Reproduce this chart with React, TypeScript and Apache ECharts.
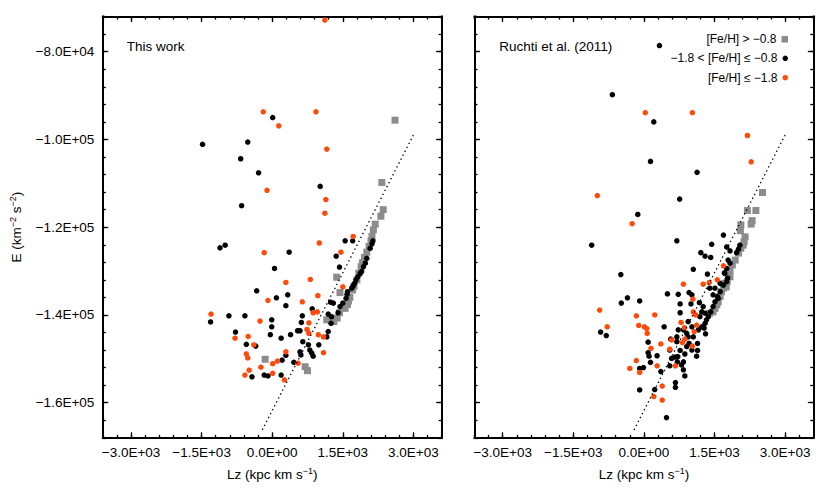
import React, { useEffect, useRef } from "react";
import * as echarts from "echarts";

const FONT = "'Liberation Sans', Arial, Helvetica, sans-serif";
const ORANGE = "#ff4a0a";
const GRAY = "#8c8c8c";

const seriesNames = ["[Fe/H] > −0.8", "−1.8 < [Fe/H] ≤ −0.8", "[Fe/H] ≤ −1.8"];
const panelLabels = ["This work", "Ruchti et al. (2011)"];
const xRange = [-3600, 3600];
const yRange = [-168000, -72000];
const xMajorTicks = [-3000, -1500, 0, 1500, 3000];
const xTickLabels = ["−3.0E+03", "−1.5E+03", "0.0E+00", "1.5E+03", "3.0E+03"];
const yMajorTicks = [-160000, -140000, -120000, -100000, -80000];
const yTickLabels = ["−1.6E+05", "−1.4E+05", "−1.2E+05", "−1.0E+05", "−8.0E+04"];

// dotted reference line (Lz, E)
const refLine = [[-210, -166200], [3000, -99000]];

// ---- This work ----
const thisWorkRich = [[2610,-95600],[2330,-109800],[2360,-116000],[2310,-117500],[2190,-119300],[2150,-120600],[2120,-122100],[2100,-123100],[2060,-124400],[2010,-125700],[1960,-126900],[1920,-128100],[1890,-129000],[1840,-130500],[1800,-132000],[1740,-133400],[1710,-134300],[1650,-136000],[1620,-136800],[1600,-137600],[1550,-138500],[1430,-139500],[1380,-140700],[1310,-141500],[1240,-141100],[1160,-141100],[1370,-131400],[1440,-134900],[700,-151800],[750,-152700],[-150,-150100]];

const thisWorkMid = [[10,-95000],[-1480,-101100],[-520,-100600],[-670,-104400],[-290,-107600],[-650,-115100],[-1110,-124700],[-1000,-124100],[360,-125700],[50,-129400],[-330,-134500],[90,-136100],[330,-135400],[290,-137900],[-1310,-141600],[-920,-140200],[-580,-140200],[-10,-141100],[-10,-142700],[-780,-143900],[-40,-144500],[190,-145300],[390,-144500],[540,-143600],[-550,-146700],[-350,-147100],[290,-149200],[210,-150300],[460,-150800],[-430,-154100],[-170,-153700],[-90,-153900],[190,-153700],[1020,-110700],[2140,-123100],[2120,-123800],[2080,-124800],[2010,-127100],[1980,-128200],[1940,-129000],[1900,-130100],[1870,-130500],[1820,-131300],[1780,-132000],[1750,-132800],[1720,-133400],[1690,-133900],[1600,-134700],[1590,-135300],[1570,-136200],[1500,-137300],[1440,-138100],[1400,-139500],[1300,-137300],[1240,-137100],[1190,-139800],[1260,-140400],[1250,-141900],[1160,-145000],[1550,-123100],[1710,-123100],[1360,-126600],[1430,-129100],[850,-138600],[640,-140200],[620,-141700],[590,-143600],[1190,-143800],[650,-146100],[770,-146800],[590,-148400],[610,-149100],[800,-148000],[840,-148700],[870,-149400],[990,-146800]];

const thisWorkPoor = [[1120,-72800],[-190,-93700],[140,-96900],[930,-93700],[1160,-102200],[-110,-111600],[-170,-125800],[290,-132600],[-90,-136700],[-1300,-139800],[-260,-141400],[-510,-144900],[-790,-145300],[-390,-146800],[-550,-148900],[-520,-149800],[290,-148400],[110,-150500],[10,-151100],[550,-151000],[-240,-151900],[-490,-152600],[-580,-153700],[10,-153300],[260,-154800],[1140,-113700],[1120,-116800],[1000,-123600],[1720,-122100],[1460,-125700],[1500,-133600],[810,-131900],[970,-135600],[640,-137000],[870,-139500],[960,-139300],[780,-141800],[740,-143300],[780,-144200],[980,-144500],[1090,-145000],[1090,-148600]];

// ---- Ruchti et al. (2011) ----
const ruchtiRich = [[2520,-112100],[2380,-116200],[2200,-116200],[2300,-118500],[2280,-119300],[2060,-119500],[2050,-120800],[2150,-122200],[2130,-123300],[2060,-124800],[2010,-125900],[1940,-127500],[1880,-128600],[1830,-129800],[1780,-130500],[1750,-133600],[1720,-132800],[1690,-133900],[1650,-134700],[1620,-135800],[1580,-137000],[1550,-137700],[1510,-138500],[1470,-139300],[1400,-139600],[1830,-131300],[1770,-132400],[2110,-124100]];

const ruchtiMid = [[-670,-89800],[330,-78600],[210,-96000],[140,-105000],[1130,-107500],[760,-113600],[-130,-117100],[-1110,-124100],[-490,-130800],[-350,-136100],[-480,-137300],[-90,-136800],[-920,-143900],[-800,-144700],[700,-123100],[1690,-121800],[1440,-123900],[1210,-125800],[1300,-126600],[1420,-126900],[1050,-129600],[1350,-130700],[1790,-127500],[1830,-128200],[1760,-129400],[1720,-130500],[1780,-131600],[1760,-132400],[1690,-133200],[1620,-134700],[1560,-135800],[1510,-137000],[1470,-138100],[1420,-139300],[1370,-140400],[1330,-141100],[1300,-141900],[1280,-143000],[1310,-144300],[1510,-133900],[1470,-135400],[1580,-136200],[500,-135200],[730,-135300],[960,-134900],[1020,-135400],[1000,-137500],[1180,-137200],[1260,-138100],[1230,-139300],[1190,-140400],[1300,-139600],[770,-137500],[770,-139500],[430,-142700],[940,-141500],[1020,-142700],[1160,-143400],[1230,-142700],[700,-145000],[700,-146100],[940,-145000],[960,-146500],[910,-147200],[770,-148100],[1020,-148000],[1140,-146500],[1140,-148100],[1120,-149400],[870,-148900],[720,-149500],[590,-149900],[550,-151600],[800,-151400],[840,-152500],[870,-153900],[280,-149300],[360,-152900],[90,-146200],[90,-148600],[110,-149400],[-90,-152200],[-10,-152000],[140,-150800],[-90,-157100],[230,-157000],[480,-163400],[670,-155400],[670,-156500],[570,-145500],[1050,-145000],[910,-144200],[730,-143400],[840,-143400],[840,-150700],[660,-149600],[710,-150700],[550,-148000],[1970,-125800],[2010,-125000],[2040,-124100],[1710,-130400],[1620,-132800],[1400,-133900],[1830,-125400],[1760,-124500]];

const ruchtiPoor = [[30,-93900],[1030,-93900],[2200,-99100],[2280,-105100],[-990,-112800],[-250,-119200],[-940,-138900],[-160,-140200],[-110,-142400],[-780,-142700],[1690,-128800],[1560,-132000],[1390,-132600],[1260,-133000],[840,-133000],[1040,-136400],[1050,-139300],[1100,-140000],[230,-140000],[790,-141700],[860,-142900],[1120,-142300],[1070,-143800],[10,-142700],[60,-143100],[70,-144200],[590,-145700],[360,-146600],[550,-147800],[870,-145500],[820,-146300],[1030,-147100],[670,-151600],[280,-151600],[150,-147600],[-160,-150400],[-300,-152200],[-90,-153100],[390,-156200],[210,-158600],[390,-159400]];

const panelData = [
  [thisWorkRich, thisWorkMid, thisWorkPoor],
  [ruchtiRich, ruchtiMid, ruchtiPoor],
];

const grids = [
  { left: 102.8, top: 16.6, width: 338.8, height: 421.2 },
  { left: 474.5, top: 16.6, width: 338.8, height: 421.2 },
];

const axisLine = { show: true, onZero: false, lineStyle: { color: "#000", width: 2 } };
const labelStyle = { fontFamily: FONT, fontSize: 13.5, color: "#000" };
const nameRich = {
  s: { fontFamily: FONT, fontSize: 9, color: "#000", verticalAlign: "top", lineHeight: 9 },
};

function fmt(values: number[], labels: string[]) {
  return (v: number) => {
    const i = values.indexOf(v);
    return i >= 0 ? labels[i] : "";
  };
}

function makeXAxes(g: number) {
  const base = { type: "value", gridIndex: g, min: xRange[0], max: xRange[1], axisLine, splitLine: { show: false } };
  const minor = (pos: string) => ({
    ...base, position: pos, interval: 300,
    axisTick: { show: true, inside: true, length: 3, lineStyle: { color: "#000", width: 1.3 } },
    axisLabel: { show: false },
  });
  const major = (pos: string, labels: boolean) => ({
    ...base, position: pos,
    axisTick: { show: true, inside: true, length: 5.5, customValues: xMajorTicks, lineStyle: { color: "#000", width: 1.3 } },
    axisLabel: labels
      ? { show: true, customValues: xMajorTicks, formatter: fmt(xMajorTicks, xTickLabels), margin: 8, ...labelStyle }
      : { show: false },
    ...(labels
      ? {
          name: "Lz (kpc km s{s|−1})",
          nameLocation: "middle",
          nameGap: 29,
          nameTextStyle: { ...labelStyle, lineHeight: 16, rich: nameRich },
        }
      : {}),
  });
  return [minor("bottom"), major("bottom", true), minor("top"), major("top", false)];
}

function makeYAxes(g: number) {
  const base = { type: "value", gridIndex: g, min: yRange[0], max: yRange[1], axisLine, splitLine: { show: false } };
  const minor = (pos: string) => ({
    ...base, position: pos, interval: 4000,
    axisTick: { show: true, inside: true, length: 3, lineStyle: { color: "#000", width: 1.3 } },
    axisLabel: { show: false },
  });
  const major = (pos: string, labels: boolean, named: boolean) => ({
    ...base, position: pos,
    axisTick: { show: true, inside: true, length: 5.5, customValues: yMajorTicks, lineStyle: { color: "#000", width: 1.3 } },
    axisLabel: labels
      ? { show: true, customValues: yMajorTicks, formatter: fmt(yMajorTicks, yTickLabels), margin: 8.5, ...labelStyle }
      : { show: false },
    ...(named
      ? {
          name: "E (km{s|−2} s{s|−2})",
          nameLocation: "middle",
          nameRotate: 90,
          nameGap: 78,
          nameTextStyle: { ...labelStyle, lineHeight: 16, rich: nameRich },
        }
      : {}),
  });
  return [minor("left"), major("left", g === 0, g === 0), minor("right"), major("right", false, false)];
}

const symbolFor = ["rect", "circle", "circle"];
const sizeFor = [7, 5.5, 5.5];
const legendSize = [6.5, 5.5, 5.5];
const colorFor = [GRAY, "#000000", ORANGE];

export default function App() {
  const ref = useRef<HTMLDivElement>(null);
  useEffect(() => {
    if (!ref.current) return;
    const chart = echarts.init(ref.current, undefined, { renderer: "svg" });
    const series: any[] = [];
    panelData.forEach((sets, p) => {
      series.push({
        type: "line",
        name: "ref" + p,
        xAxisIndex: p * 4,
        yAxisIndex: p * 4,
        data: refLine,
        symbol: "none",
        showSymbol: false,
        silent: true,
        lineStyle: { color: "#000", width: 1.3, type: [1.4, 3] },
      });
      sets.forEach((d, i) => {
        series.push({
          type: "scatter",
          name: seriesNames[i],
          xAxisIndex: p * 4,
          yAxisIndex: p * 4,
          data: d,
          symbol: symbolFor[i],
          symbolSize: sizeFor[i],
          itemStyle: { color: colorFor[i], opacity: 1 },
          silent: true,
        });
      });
    });
    const legendTops = [32.3, 51.3, 70.7];
    const option: any = {
      animation: false,
      backgroundColor: "#ffffff",
      textStyle: { fontFamily: FONT },
      grid: grids,
      xAxis: [...makeXAxes(0), ...makeXAxes(1)],
      yAxis: [...makeYAxes(0), ...makeYAxes(1)],
      legend: seriesNames.map((n, i) => ({
        data: [{ name: n, icon: symbolFor[i] }],
        orient: "vertical",
        align: "right",
        right: 42,
        top: legendTops[i],
        padding: 0,
        itemWidth: legendSize[i],
        itemHeight: legendSize[i],
        selectedMode: false,
        textStyle: { fontFamily: FONT, fontSize: 12, color: "#000", lineHeight: 14 },
      })),
      graphic: [
        { type: "text", x: 126.7, y: 46, style: { text: panelLabels[0], fontFamily: FONT, fontSize: 13.5, fill: "#000", verticalAlign: "middle" } },
        { type: "text", x: 499.3, y: 46.7, style: { text: panelLabels[1], fontFamily: FONT, fontSize: 13.5, fill: "#000", verticalAlign: "middle" } },
      ],
      series,
    };
    chart.setOption(option);
    return () => chart.dispose();
  }, []);
  return (
    <div
      ref={ref}
      style={{ position: "absolute", left: 0, top: 0, width: 830, height: 493, background: "#fff" }}
    />
  );
}
